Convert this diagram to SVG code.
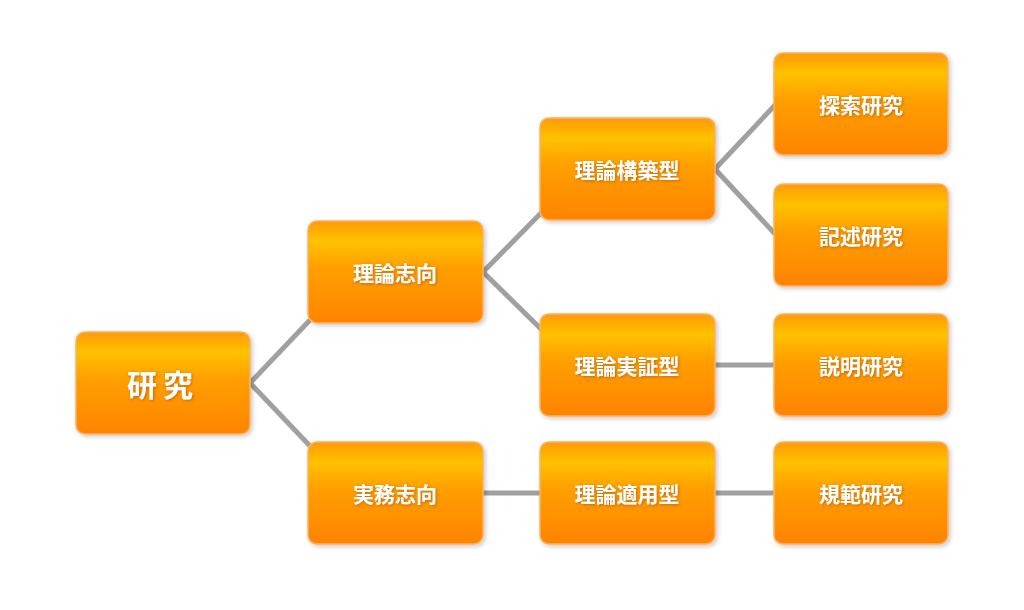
<svg xmlns="http://www.w3.org/2000/svg" width="1024" height="610" viewBox="0 0 1024 610">
<defs>
<linearGradient id="g" x1="0" y1="0" x2="0" y2="1">
<stop offset="0" stop-color="#ff9a0a"/>
<stop offset="0.2" stop-color="#ffc200"/>
<stop offset="0.45" stop-color="#ffa000"/>
<stop offset="1" stop-color="#ff8400"/>
</linearGradient>
<linearGradient id="lg" x1="0" y1="0" x2="1" y2="0">
<stop offset="0" stop-color="#888"/>
<stop offset="0.5" stop-color="#c8c8c8"/>
<stop offset="1" stop-color="#888"/>
</linearGradient>
<filter id="sh" x="-10%" y="-10%" width="130%" height="130%">
<feDropShadow dx="2" dy="2" stdDeviation="2" flood-color="#000" flood-opacity="0.2"/>
</filter>
<filter id="ts"><feDropShadow dx="1" dy="1" stdDeviation="1.5" flood-color="#a04000" flood-opacity="0.6"/></filter>
</defs>
<style>
.b{fill:url(#g);stroke:#ffb060;stroke-width:1.5;filter:url(#sh)}
.t{fill:#fff;font-family:"Noto Sans CJK JP",sans-serif;font-weight:bold;font-size:21px;text-anchor:middle;dominant-baseline:central;filter:url(#ts)}
.c line{stroke:#a0a0a0;stroke-width:5}
</style>
<g class="c">
<line x1="250" y1="383" x2="310" y2="320"/>
<line x1="250" y1="383" x2="310" y2="446"/>
<line x1="483" y1="272" x2="542" y2="212"/>
<line x1="483" y1="272" x2="542" y2="330"/>
<line x1="715" y1="169" x2="776" y2="104"/>
<line x1="715" y1="169" x2="776" y2="235"/>
<line x1="715" y1="365" x2="774" y2="365"/>
<line x1="483" y1="493" x2="540" y2="493"/>
<line x1="715" y1="493" x2="774" y2="493"/>
</g>
<g id="n0"><rect class="b" x="76" y="332" width="174" height="102" rx="9"/><text class="t" x="163" y="383" style="font-size:30px;letter-spacing:6px">研究</text></g>
<g id="n1"><rect class="b" x="308" y="221" width="175" height="102" rx="9"/><text class="t" x="395" y="272">理論志向</text></g>
<g id="n2"><rect class="b" x="308" y="442" width="175" height="102" rx="9"/><text class="t" x="395" y="493">実務志向</text></g>
<g id="n3"><rect class="b" x="540" y="118" width="175" height="102" rx="9"/><text class="t" x="627" y="169">理論構築型</text></g>
<g id="n4"><rect class="b" x="540" y="314" width="175" height="102" rx="9"/><text class="t" x="627" y="365">理論実証型</text></g>
<g id="n5"><rect class="b" x="540" y="442" width="175" height="102" rx="9"/><text class="t" x="627" y="493">理論適用型</text></g>
<g id="n6"><rect class="b" x="774" y="53" width="174" height="102" rx="9"/><text class="t" x="861" y="104">探索研究</text></g>
<g id="n7"><rect class="b" x="774" y="184" width="174" height="102" rx="9"/><text class="t" x="861" y="235">記述研究</text></g>
<g id="n8"><rect class="b" x="774" y="314" width="174" height="102" rx="9"/><text class="t" x="861" y="365">説明研究</text></g>
<g id="n9"><rect class="b" x="774" y="442" width="174" height="102" rx="9"/><text class="t" x="861" y="493">規範研究</text></g>
</svg>
